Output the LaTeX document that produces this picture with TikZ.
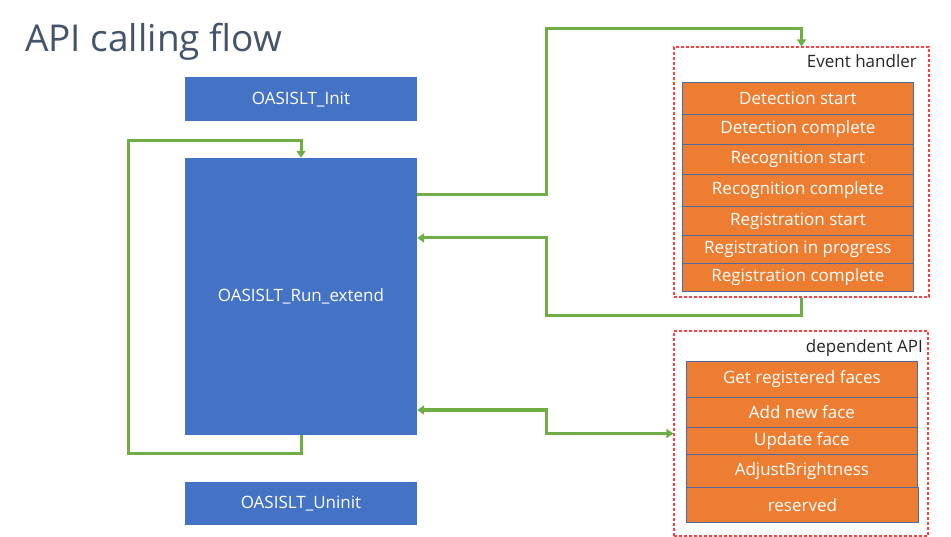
\documentclass[tikz,border=0pt]{standalone}
\usepackage{fontspec}
\setmainfont{Open Sans}
\usetikzlibrary{arrows.meta,calc}
\definecolor{boxblue}{HTML}{4472C4}
\definecolor{orng}{HTML}{ED7D31}
\definecolor{rowline}{HTML}{4A6AA0}
\definecolor{flowgreen}{HTML}{70AD47}
\definecolor{dashred}{HTML}{FF4040}
\definecolor{titlegray}{HTML}{44546A}
\definecolor{labelgray}{HTML}{262626}
\begin{document}
\begin{tikzpicture}[x=1pt,y=-1pt,
  bluebox/.style={fill=boxblue,draw=none,text=white,inner sep=0pt,minimum width=232pt,font=\fontsize{17}{20}\selectfont},
  row/.style={fill=orng,draw=rowline,line width=0.8pt,text=white,inner sep=0pt,anchor=north west,minimum width=231pt,font=\fontsize{17}{20}\selectfont},
  group/.style={draw=dashred,dash pattern=on 3pt off 2pt,line width=1.1pt,inner sep=0pt},
  grouplabel/.style={text=labelgray,anchor=base east,inner sep=0pt,font=\fontsize{17}{20}\selectfont},
  flow/.style={draw=flowgreen,line width=3pt,-{Triangle[length=7pt,width=9pt]}},
  flow2/.style={draw=flowgreen,line width=3pt,{Triangle[length=7pt,width=9pt]}-{Triangle[length=7pt,width=9pt]}}
]
\useasboundingbox (0,0) rectangle (951,537);
\fill[white] (0,0) rectangle (951,537);

\node[anchor=base west,inner sep=0pt,text=titlegray,font=\fontsize{37}{44}\selectfont] (title) at (25,52) {API calling flow};

\node[bluebox,minimum height=44pt] (init) at (301,99.5) {OASISLT\_Init};
\node[bluebox,minimum height=277pt] (run) at (301,296.5) {OASISLT\_Run\_extend};
\node[bluebox,minimum height=43pt] (uninit) at (301,503.5) {OASISLT\_Uninit};

% event handler group
\node[group,minimum width=255pt,minimum height=250pt] (evbox) at (801.5,172) {};
\node[grouplabel] (evlabel) at (917,68) {Event handler};
\node[row,minimum height=32pt] (ev1) at (682,82) {Detection start};
\node[row,minimum height=30pt] (ev2) at (682,114) {Detection complete};
\node[row,minimum height=30pt] (ev3) at (682,144) {Recognition start};
\node[row,minimum height=32pt] (ev4) at (682,174) {Recognition complete};
\node[row,minimum height=29pt] (ev5) at (682,206) {Registration start};
\node[row,minimum height=28pt] (ev6) at (682,235) {Registration in progress};
\node[row,minimum height=28pt] (ev7) at (682,263) {Registration complete};

% dependent API group
\node[group,minimum width=254pt,minimum height=205pt] (depbox) at (801,433.5) {};
\node[grouplabel] (deplabel) at (923,353) {dependent API};
\node[row,minimum height=36pt] (d1) at (686,361) {Get registered faces};
\node[row,minimum height=30pt] (d2) at (686,397) {Add new face};
\node[row,minimum height=27pt] (d3) at (686,427) {Update face};
\node[row,minimum height=33pt] (d4) at (686,454) {AdjustBrightness};
\node[row,minimum height=35pt,minimum width=232pt] (d5) at (686,487) {reserved};

% coordinates
\coordinate (lp1) at (128,453);
\coordinate (lp2) at (128,141);
\coordinate (r1) at ($(run.north east)+(0,37)$);
\coordinate (c1) at (546,29);
\coordinate (c2) at ($(evbox.south)+(0,18)$);
\coordinate (c3) at (546,238);
\coordinate (c4) at (546,410);

% loop
\draw[flow] (run.south) |- (lp1) -- (lp2) -| (run.north);
% run -> event handler
\draw[flow] (r1) -| (c1) -| (evbox.north);
% event handler -> run
\draw[flow] (evbox.south) -- (c2) -| (c3) -- (run.east |- c3);
% run <-> dependent API
\draw[flow2] (run.east |- c4) -- (c4) |- (depbox.west);
\end{tikzpicture}
\end{document}
